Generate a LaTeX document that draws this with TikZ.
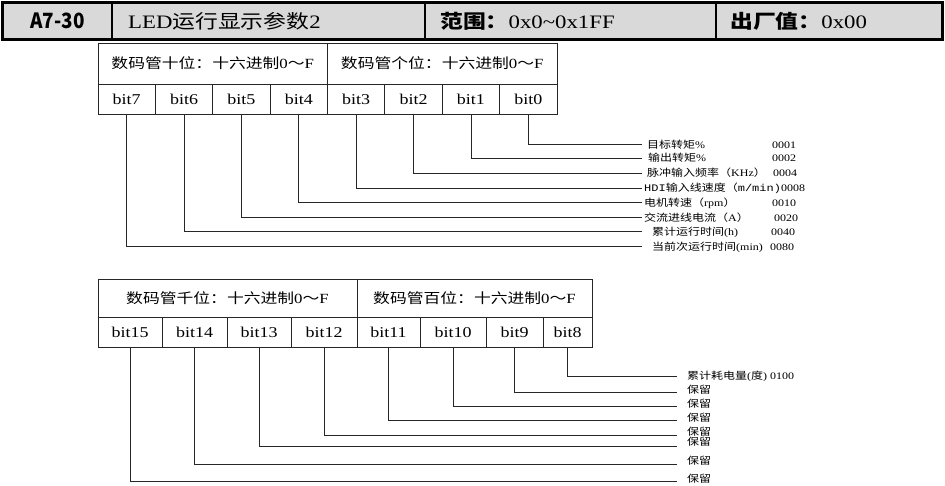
\documentclass[tikz,border=0pt]{standalone}
\usepackage{fontspec}
\setmainfont{Liberation Serif}[FakeStretch=1.2]
\newfontfamily\cjkfont{Noto Sans CJK SC}[FakeStretch=1.2]
\newfontfamily\cjknarrow{Noto Sans CJK SC}[FakeStretch=0.9]
\newfontfamily\monofont{Liberation Mono}[FakeStretch=1.2]
\newcommand\zh[1]{{\cjkfont #1}}
\newcommand\zhb[1]{{\cjkfont\bfseries #1}}
\newcommand\mn[1]{{\monofont #1}}
\begin{document}
\begin{tikzpicture}[x=1pt,y=-1pt,
  hcell/.style={draw=black, line width=1.5pt, fill=black!15, inner sep=0pt, minimum height=36pt},
  cell/.style={draw=black!85, line width=0.8pt, inner sep=0pt, font=\fontsize{15}{15}\selectfont},
  capcell/.style={cell, font=\fontsize{14}{14}\selectfont},
  bitcell/.style={cell, minimum height=30pt},
  conn/.style={draw=black!85, line width=0.8pt},
  lab/.style={inner sep=0pt, anchor=west, font=\fontsize{10}{10}\selectfont},
  htext/.style={inner sep=0pt, anchor=west, font=\fontsize{19}{19}\selectfont}
]
\useasboundingbox (0,0) rectangle (945,486);

% header bar
\node[hcell, minimum width=109pt] (h1) at (57.5,21) {};
\node[hcell, minimum width=313pt] (h2) at (268.5,21) {};
\node[hcell, minimum width=291pt] (h3) at (570.5,21) {};
\node[hcell, minimum width=226pt] (h4) at (829,21) {};
\draw[line width=2.5pt] (h1.north west) rectangle (h4.south east);
\node[htext, anchor=center, font=\fontsize{21}{21}\selectfont] (t1) at (h1) {\cjknarrow\bfseries A7-30};
\node[htext] (t2) at (128,21) {LED\zh{运行显示参数}2};
\node[htext] (t3) at (440,21) {\zhb{范围：}0x0\textasciitilde0x1FF};
\node[htext] (t4) at (730,21) {\zhb{出厂值：}0x00};

% upper table
\node[capcell, minimum width=229.5pt, minimum height=41pt] (ca) at (212.75,63.5) {\zh{数码管十位：十六进制}0\zh{～}F};
\node[capcell, minimum width=229.5pt, minimum height=41pt] (cb) at (442.25,63.5) {\zh{数码管个位：十六进制}0\zh{～}F};
\foreach \i/\n in {0/7,1/6,2/5,3/4,4/3,5/2,6/1,7/0}
  \node[bitcell, minimum width=57.375pt] (b\n) at ({126.69+57.375*\i},99) {bit\n};

\foreach \n/\y in {0/144,1/158,2/173,3/188,4/202,5/217,6/231,7/246}{
  \coordinate (e\n) at (642,\y);
  \draw[conn] (b\n.south) |- (e\n);
}

\node[lab] (l0) at (647,145) {\zh{目标转矩}\%};
\node[lab] (k0) at (772,145) {0001};
\node[lab] (l1) at (648,158) {\zh{输出转矩}\%};
\node[lab] (k1) at (772,158) {0002};
\node[lab] (l2) at (647,173) {\zh{脉冲输入频率（}KHz\zh{）}};
\node[lab] (k2) at (773,173) {0004};
\node[lab] (l3) at (644,188) {\mn{HDI}\zh{输入线速度（}\mn{m/min}\mn{)}0008};
\node[lab] (l4) at (644,203) {\zh{电机转速（}rpm\zh{）}};
\node[lab] (k4) at (772,203) {0010};
\node[lab] (l5) at (644,218) {\zh{交流进线电流（}A\zh{）}};
\node[lab] (k5) at (774,218) {0020};
\node[lab] (l6) at (652,232) {\zh{累计运行时间}(h)};
\node[lab] (k6) at (771,232) {0040};
\node[lab] (l7) at (652,247) {\zh{当前次运行时间}(min)};
\node[lab] (k7) at (770,247) {0080};

% lower table
\node[capcell, minimum width=259pt, minimum height=38pt] (cc) at (227.5,298) {\zh{数码管千位：十六进制}0\zh{～}F};
\node[capcell, minimum width=235pt, minimum height=38pt] (cd) at (474.5,298) {\zh{数码管百位：十六进制}0\zh{～}F};
\foreach \n/\x/\w in {15/130/64,14/194.5/65,13/259/64,12/324/66,11/388.5/63,10/453/66,9/514.5/57,8/567.5/49}
  \node[bitcell, minimum width=\w pt] (b\n) at (\x,332) {bit\n};

\foreach \n/\y in {8/376,9/392,10/406,11/420,12/435,13/446,14/464,15/481}{
  \coordinate (e\n) at (677,\y);
  \draw[conn] (b\n.south) |- (e\n);
}

\node[lab] (l8) at (687,376) {\zh{累计耗电量}(\zh{度}) 0100};
\node[lab] (l9) at (687,390) {\zh{保留}};
\node[lab] (l10) at (687,404) {\zh{保留}};
\node[lab] (l11) at (687,418) {\zh{保留}};
\node[lab] (l12) at (687,432) {\zh{保留}};
\node[lab] (l13) at (687,442) {\zh{保留}};
\node[lab] (l14) at (687,461) {\zh{保留}};
\node[lab] (l15) at (687,479) {\zh{保留}};
\end{tikzpicture}
\end{document}
